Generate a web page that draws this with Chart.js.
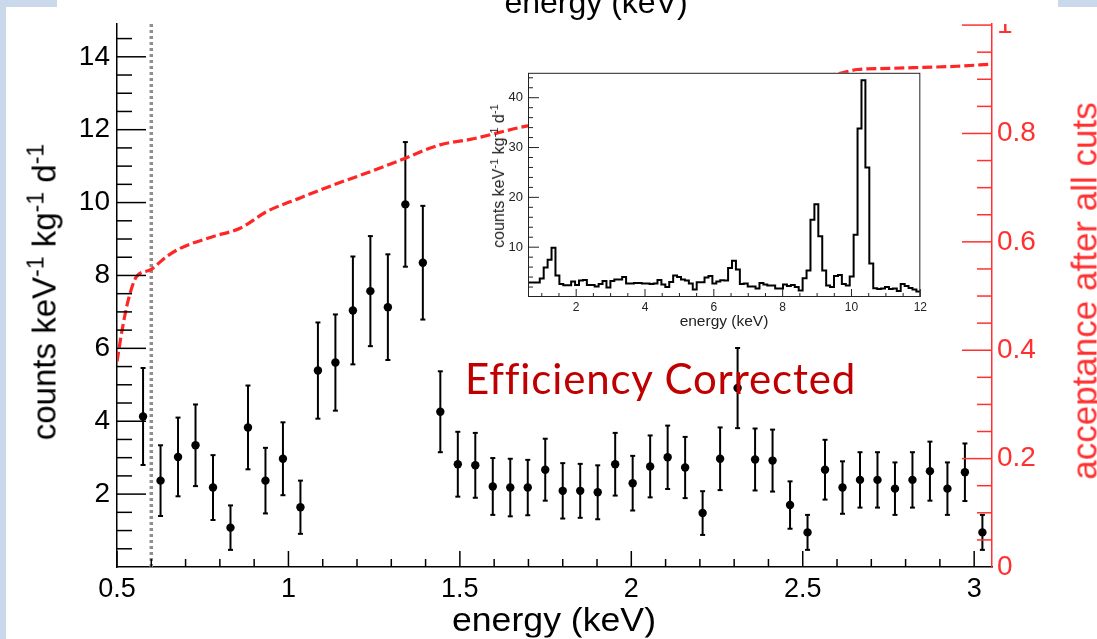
<!DOCTYPE html>
<html>
<head>
<meta charset="utf-8">
<script src="https://cdn.jsdelivr.net/npm/chart.js@4.4.1/dist/chart.umd.min.js"></script>
<style>
  body { margin: 0; width: 1097px; height: 639px; overflow: hidden; position: relative; background: #fff;
         font-family: 'Liberation Sans', Arial, sans-serif; }
  .deco { position: absolute; background: #c9d8ea; }
  .mask { position: absolute; background: #fff; }
  canvas { position: absolute; }
  #main { left: 0; top: 0; }
  #inset { left: 470px; top: 60px; }
  .txt { position: absolute; white-space: nowrap; line-height: 1; }
  .rot { transform: translate(-50%, -50%) rotate(-90deg); }
  .hor { transform: translate(-50%, -50%); }
  sup { font-size: 0.7em; vertical-align: 0.5em; line-height: 0; }
</style>
</head>
<body>
<canvas id="main" width="1097" height="639"></canvas>
<canvas id="inset" width="460" height="280"></canvas>

<!-- the top of the plot is cut off in the slide -->
<div class="mask" style="left:994px;top:0;width:50px;height:24px"></div>
<div class="deco" style="left:0;top:0;width:6px;height:639px"></div>
<div class="deco" style="left:0;top:0;width:57px;height:7px"></div>
<div class="deco" style="left:1058px;top:0;width:39px;height:7px"></div>

<div class="txt hor" style="left:596px;top:2px;font-size:32px">energy (keV)</div>
<div class="txt" style="left:554px;top:619px;font-size:33px;transform:translate(-50%,-50%) scaleX(1.08)">energy (keV)</div>
<div class="txt rot" style="left:44px;top:292px;font-size:33px">counts keV<sup>-1</sup> kg<sup>-1</sup> d<sup>-1</sup></div>
<div class="txt rot" style="left:1084px;top:291px;font-size:35px;color:#ff3030">acceptance after all cuts</div>
<div class="txt rot" style="left:499px;top:176px;font-size:16px;color:#222">counts keV<sup>-1</sup> kg<sup>-1</sup> d<sup>-1</sup></div>
<div class="txt hor" style="left:724px;top:321px;font-size:15.5px;color:#222">energy (keV)</div>
<div class="txt" style="left:465px;top:357px;font-size:42px;letter-spacing:0.85px;font-family:Lato,'Open Sans',sans-serif;color:#c00000">Efficiency Corrected</div>

<script>
// main spectrum: bin centres (keV), rate and error (counts keV-1 kg-1 d-1)
const ENERGY = [0.576, 0.627, 0.678, 0.729, 0.780, 0.831, 0.882, 0.933, 0.984, 1.035,
                1.086, 1.137, 1.188, 1.239, 1.290, 1.341, 1.392, 1.443, 1.494, 1.545,
                1.596, 1.647, 1.698, 1.749, 1.800, 1.851, 1.902, 1.953, 2.004, 2.055,
                2.106, 2.157, 2.208, 2.259, 2.310, 2.361, 2.412, 2.463, 2.514, 2.565,
                2.616, 2.667, 2.718, 2.769, 2.820, 2.871, 2.922, 2.973, 3.024];
const RATE = [4.13, 2.37, 3.02, 3.34, 2.18, 1.08, 3.83, 2.37, 2.97, 1.64,
              5.39, 5.61, 7.04, 7.57, 7.13, 9.95, 8.35, 4.26, 2.82, 2.79,
              2.21, 2.18, 2.18, 2.67, 2.09, 2.09, 2.05, 2.82, 2.30, 2.76,
              3.01, 2.73, 1.48, 2.97, 4.91, 2.95, 2.92, 1.70, 0.95, 2.67,
              2.18, 2.39, 2.39, 2.15, 2.39, 2.63, 2.15, 2.60, 0.95];
const RATE_ERR = [1.33, 0.97, 1.08, 1.12, 0.89, 0.61, 1.15, 0.90, 1.00, 0.73,
                  1.32, 1.32, 1.48, 1.51, 1.45, 1.71, 1.56, 1.11, 0.89, 0.89,
                  0.78, 0.79, 0.76, 0.85, 0.76, 0.74, 0.74, 0.86, 0.75, 0.85,
                  0.87, 0.84, 0.60, 0.86, 1.10, 0.85, 0.85, 0.65, 0.48, 0.82,
                  0.72, 0.76, 0.76, 0.72, 0.76, 0.81, 0.72, 0.79, 0.48];

// acceptance curve (right axis)
const ACC_ENERGY = [0.50, 0.514, 0.533, 0.557, 0.596, 0.645, 0.684, 0.781, 0.859, 0.937,
                    1.034, 1.131, 1.228, 1.316, 1.442, 1.53, 1.69, 1.85, 2.0, 2.25,
                    2.5, 2.6, 2.66, 2.75, 2.85, 2.95, 3.05];
const ACCEPTANCE = [0.379, 0.434, 0.493, 0.536, 0.548, 0.573, 0.588, 0.610, 0.625, 0.656,
                    0.681, 0.705, 0.727, 0.748, 0.779, 0.789, 0.813, 0.830, 0.848, 0.880,
                    0.900, 0.910, 0.918, 0.920, 0.922, 0.924, 0.928];
const CUT_ENERGY = 0.6;

const X_TICKS = [0.5, 1, 1.5, 2, 2.5, 3];
const X_TICK_LABELS = ['0.5', '1', '1.5', '2', '2.5', '3'];
const Y_TICKS = [2, 4, 6, 8, 10, 12, 14];
const Y_TICK_LABELS = ['2', '4', '6', '8', '10', '12', '14'];
const ACC_TICKS = [0, 0.2, 0.4, 0.6, 0.8, 1];
const ACC_TICK_LABELS = ['0', '0.2', '0.4', '0.6', '0.8', '1'];

// inset: full-range spectrum, 100 bins from 0.6 to 12 keV
const INSET_START = 0.6;
const INSET_BIN = 0.114;
const INSET_COUNTS = [2.9, 2.9, 2.9, 3.7, 5.9, 7.5, 9.9, 4.3, 2.6, 2.35,
                      2.35, 3.1, 2.4, 3.3, 3.4, 2.4, 2.4, 2.1, 2.6, 3.2,
                      1.9, 3.2, 3.5, 3.5, 4.0, 2.7, 2.7, 2.8, 2.8, 2.7,
                      2.7, 2.6, 2.7, 3.4, 2.5, 2.0, 3.0, 4.3, 4.0, 3.5,
                      3.3, 2.7, 1.5, 2.95, 2.95, 3.9, 4.2, 2.7, 3.1, 3.35,
                      3.3, 5.8, 7.3, 5.5, 2.6, 2.7, 2.1, 2.1, 1.7, 2.8,
                      2.5, 2.3, 2.3, 1.7, 1.7, 2.5, 2.2, 2.4, 2.0, 1.3,
                      3.75, 5.3, 15.5, 18.6, 12.2, 5.3, 2.3, 2.0, 4.2, 4.4,
                      2.6, 2.3, 4.1, 12.5, 33.8, 43.5, 26, 6.7, 1.75, 1.6,
                      1.7, 2.0, 1.6, 1.7, 1.2, 2.6, 2.2, 1.8, 1.5, 1.1];
const INSET_X_TICKS = [2, 4, 6, 8, 10, 12];
const INSET_X_LABELS = ['2', '4', '6', '8', '10', '12'];
const INSET_Y_TICKS = [10, 20, 30, 40];
const INSET_Y_LABELS = ['10', '20', '30', '40'];

const RED = '#ff3030';

function line(ctx, x1, y1, x2, y2) {
    ctx.beginPath();
    ctx.moveTo(x1, y1);
    ctx.lineTo(x2, y2);
    ctx.stroke();
}

// error bars with small caps
const errorBars = {
    id: 'errorBars',
    beforeDatasetsDraw(chart) {
        const { ctx, scales } = chart;
        ctx.save();
        ctx.strokeStyle = '#000';
        ctx.lineWidth = 2;
        ENERGY.forEach((e, i) => {
            const x = scales.x.getPixelForValue(e);
            const top = scales.y.getPixelForValue(RATE[i] + RATE_ERR[i]);
            const bot = scales.y.getPixelForValue(RATE[i] - RATE_ERR[i]);
            line(ctx, x, top, x, bot);
            line(ctx, x - 2.5, top, x + 2.5, top);
            line(ctx, x - 2.5, bot, x + 2.5, bot);
        });
        ctx.restore();
    }
};

// ROOT style inside ticks
const mainTicks = {
    id: 'mainTicks',
    afterDraw(chart) {
        const { ctx, chartArea: a, scales } = chart;
        ctx.save();
        ctx.lineWidth = 1.5;
        ctx.strokeStyle = '#000';
        for (let i = 5; i <= 30; i++) {
            const x = scales.x.getPixelForValue(i / 10);
            line(ctx, x, a.bottom, x, a.bottom - (i % 5 === 0 ? 16 : 8));
        }
        for (let i = 1; i <= 29; i++) {
            const y = scales.y.getPixelForValue(i / 2);
            line(ctx, a.left, y, a.left + (i % 4 === 0 ? 29 : 15), y);
        }
        ctx.strokeStyle = RED;
        for (let i = 1; i <= 20; i++) {
            const y = scales.y1.getPixelForValue(i / 20);
            line(ctx, a.right, y, a.right - (i % 4 === 0 ? 30 : 15), y);
        }
        ctx.restore();
    }
};

new Chart(document.getElementById('main'), {
    type: 'scatter',
    data: {
        datasets: [
            {
                data: ENERGY.map((e, i) => ({ x: e, y: RATE[i] })),
                pointRadius: 4.2,
                pointBackgroundColor: '#000',
                pointBorderWidth: 0,
                showLine: false,
                order: 0
            },
            {
                data: ACC_ENERGY.map((e, i) => ({ x: e, y: ACCEPTANCE[i] })),
                yAxisID: 'y1',
                showLine: true,
                borderColor: '#ff2626',
                borderWidth: 3.2,
                borderDash: [10, 4],
                pointRadius: 0,
                cubicInterpolationMode: 'monotone',
                order: 1
            },
            {
                data: [{ x: CUT_ENERGY, y: 0 }, { x: CUT_ENERGY, y: 14.9 }],
                showLine: true,
                borderColor: '#8f8f8f',
                borderWidth: 3.5,
                borderDash: [3, 3],
                pointRadius: 0,
                order: 2
            }
        ]
    },
    options: {
        responsive: false,
        devicePixelRatio: 1,
        animation: false,
        layout: { padding: { top: 24, left: 0, right: 0, bottom: 0 } },
        plugins: { legend: { display: false }, tooltip: { enabled: false } },
        scales: {
            x: {
                type: 'linear', min: 0.5, max: 3.052,
                grid: { display: false, drawTicks: false },
                border: { display: true, color: '#000', width: 1.5 },
                afterBuildTicks: s => { s.ticks = X_TICKS.map(v => ({ value: v })); },
                afterFit: s => { s.height = 72; },
                ticks: {
                    padding: 6, color: '#000', maxRotation: 0,
                    font: { family: 'Liberation Sans', size: 27 },
                    callback: (v, i) => X_TICK_LABELS[i]
                }
            },
            y: {
                type: 'linear', position: 'left', min: 0, max: 14.9,
                grid: { display: false, drawTicks: false },
                border: { display: true, color: '#000', width: 1.5 },
                afterBuildTicks: s => { s.ticks = Y_TICKS.map(v => ({ value: v })); },
                afterFit: s => { s.width = 117; },
                ticks: {
                    padding: 7, color: '#000',
                    font: { family: 'Liberation Sans', size: 28 },
                    callback: (v, i) => Y_TICK_LABELS[i]
                }
            },
            y1: {
                type: 'linear', position: 'right', min: 0, max: 1.002,
                grid: { display: false, drawTicks: false },
                border: { display: true, color: RED, width: 1.5 },
                afterBuildTicks: s => { s.ticks = ACC_TICKS.map(v => ({ value: v })); },
                afterFit: s => { s.width = 105; },
                ticks: {
                    padding: 5, color: RED,
                    font: { family: 'Liberation Sans', size: 28 },
                    callback: (v, i) => ACC_TICK_LABELS[i]
                }
            }
        }
    },
    plugins: [errorBars, mainTicks]
});

// inset frame, white pad and ticks
const insetFrame = {
    id: 'insetFrame',
    beforeDraw(chart) {
        const { ctx, chartArea: a } = chart;
        ctx.save();
        ctx.fillStyle = '#fff';
        ctx.fillRect(a.left, a.top, a.right - a.left, a.bottom - a.top);
        ctx.restore();
    },
    afterDraw(chart) {
        const { ctx, chartArea: a, scales } = chart;
        ctx.save();
        ctx.strokeStyle = '#222';
        ctx.lineWidth = 1;
        ctx.strokeRect(a.left + 0.5, a.top + 0.5, a.right - a.left - 1, a.bottom - a.top - 1);
        for (let i = 2; i <= 24; i++) {
            const x = scales.x.getPixelForValue(i / 2);
            line(ctx, x, a.bottom, x, a.bottom - (i % 4 === 0 ? 8 : 4));
        }
        for (let i = 1; i <= 22; i++) {
            const y = scales.y.getPixelForValue(i * 2);
            line(ctx, a.left, y, a.left + (i % 5 === 0 ? 11 : 5), y);
        }
        ctx.restore();
    }
};

const insetPoints = INSET_COUNTS.map((c, i) => ({ x: INSET_START + i * INSET_BIN, y: c }));
insetPoints.push({ x: INSET_START + INSET_COUNTS.length * INSET_BIN, y: INSET_COUNTS[INSET_COUNTS.length - 1] });

new Chart(document.getElementById('inset'), {
    type: 'line',
    data: {
        datasets: [{
            data: insetPoints,
            stepped: true,
            borderColor: '#000',
            borderWidth: 2,
            pointRadius: 0,
            fill: false
        }]
    },
    options: {
        responsive: false,
        devicePixelRatio: 1,
        animation: false,
        layout: { padding: { top: 11, right: 8, left: 0, bottom: 0 } },
        plugins: { legend: { display: false }, tooltip: { enabled: false } },
        scales: {
            x: {
                type: 'linear', min: 0.6, max: 12,
                grid: { display: false, drawTicks: false },
                border: { display: false },
                afterBuildTicks: s => { s.ticks = INSET_X_TICKS.map(v => ({ value: v })); },
                afterFit: s => { s.height = 43; },
                ticks: {
                    padding: 3, color: '#222', maxRotation: 0,
                    font: { family: 'Liberation Sans', size: 12 },
                    callback: (v, i) => INSET_X_LABELS[i]
                }
            },
            y: {
                type: 'linear', min: 0, max: 45,
                grid: { display: false, drawTicks: false },
                border: { display: false },
                afterBuildTicks: s => { s.ticks = INSET_Y_TICKS.map(v => ({ value: v })); },
                afterFit: s => { s.width = 58; },
                ticks: {
                    padding: 5, color: '#222',
                    font: { family: 'Liberation Sans', size: 13 },
                    callback: (v, i) => INSET_Y_LABELS[i]
                }
            }
        }
    },
    plugins: [insetFrame]
});
</script>
</body>
</html>
